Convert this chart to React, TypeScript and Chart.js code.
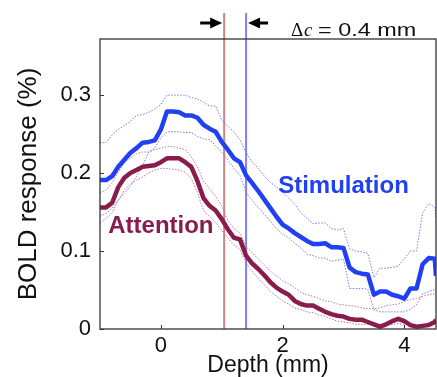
import React, { useEffect, useRef } from "react";
import { Chart, registerables } from "chart.js";

Chart.register(...registerables);

// ---- data ----
const depthMm = [
  -1.0, -0.9, -0.8, -0.7, -0.6, -0.5, -0.4, -0.3, -0.2, -0.1,
  0.0, 0.1, 0.2, 0.3, 0.4, 0.5, 0.6, 0.7, 0.8, 0.9,
  1.0, 1.1, 1.2, 1.3, 1.4, 1.5, 1.6, 1.7, 1.8, 1.9,
  2.0, 2.1, 2.2, 2.3, 2.4, 2.5, 2.6, 2.7, 2.8, 2.9,
  3.0, 3.1, 3.2, 3.3, 3.4, 3.5, 3.6, 3.7, 3.8, 3.9,
  4.0, 4.1, 4.2, 4.3, 4.4, 4.5, 4.52,
];

const stimulationMean = [
  0.191, 0.191, 0.196, 0.208, 0.217, 0.226, 0.232, 0.239, 0.240, 0.242,
  0.256, 0.279, 0.279, 0.278, 0.274, 0.274, 0.271, 0.262, 0.257, 0.253,
  0.240, 0.230, 0.219, 0.214, 0.197, 0.187, 0.177, 0.166, 0.155, 0.144,
  0.134, 0.129, 0.123, 0.118, 0.113, 0.109, 0.109, 0.110, 0.105, 0.105,
  0.104, 0.079, 0.073, 0.071, 0.070, 0.044, 0.048, 0.048, 0.044, 0.042,
  0.039, 0.052, 0.052, 0.083, 0.091, 0.090, 0.068,
];

const stimulationUpper = [
  0.239, 0.239, 0.249, 0.256, 0.261, 0.266, 0.274, 0.275, 0.278, 0.282,
  0.288, 0.300, 0.300, 0.300, 0.300, 0.297, 0.295, 0.291, 0.286, 0.286,
  0.268, 0.260, 0.253, 0.243, 0.226, 0.214, 0.206, 0.196, 0.188, 0.182,
  0.175, 0.168, 0.160, 0.149, 0.142, 0.135, 0.136, 0.136, 0.129, 0.127,
  0.129, 0.103, 0.100, 0.099, 0.097, 0.066, 0.078, 0.078, 0.079, 0.081,
  0.090, 0.100, 0.100, 0.149, 0.161, 0.156, 0.143,
];

const stimulationLower = [
  0.145, 0.148, 0.155, 0.165, 0.174, 0.183, 0.196, 0.209, 0.227, 0.232,
  0.245, 0.253, 0.253, 0.253, 0.252, 0.252, 0.247, 0.244, 0.243, 0.235,
  0.227, 0.217, 0.206, 0.197, 0.175, 0.165, 0.156, 0.147, 0.138, 0.129,
  0.122, 0.117, 0.110, 0.104, 0.096, 0.094, 0.091, 0.091, 0.087, 0.088,
  0.090, 0.052, 0.052, 0.052, 0.051, 0.025, 0.022, 0.022, 0.022, 0.022,
  0.022, 0.025, 0.031, 0.045, 0.048, 0.051, 0.050,
];

const attentionMean = [
  0.156, 0.156, 0.162, 0.182, 0.194, 0.200, 0.204, 0.208, 0.209, 0.210,
  0.214, 0.219, 0.219, 0.219, 0.214, 0.208, 0.190, 0.168, 0.158, 0.152,
  0.141, 0.128, 0.117, 0.115, 0.094, 0.084, 0.077, 0.069, 0.060, 0.053,
  0.048, 0.044, 0.036, 0.032, 0.030, 0.030, 0.026, 0.022, 0.019, 0.017,
  0.016, 0.013, 0.012, 0.012, 0.009, 0.006, 0.003, 0.006, 0.010, 0.013,
  0.010, 0.005, 0.003, 0.004, 0.005, 0.009, 0.012,
];

const attentionUpper = [
  0.175, 0.178, 0.188, 0.201, 0.213, 0.219, 0.225, 0.227, 0.227, 0.230,
  0.232, 0.234, 0.234, 0.232, 0.230, 0.221, 0.208, 0.190, 0.180, 0.170,
  0.158, 0.139, 0.129, 0.123, 0.106, 0.097, 0.090, 0.082, 0.074, 0.068,
  0.062, 0.058, 0.053, 0.047, 0.044, 0.042, 0.039, 0.036, 0.035, 0.032,
  0.031, 0.030, 0.029, 0.027, 0.026, 0.026, 0.027, 0.030, 0.031, 0.032,
  0.035, 0.038, 0.039, 0.042, 0.044, 0.045, 0.045,
];

const attentionLower = [
  0.136, 0.142, 0.149, 0.165, 0.178, 0.186, 0.191, 0.195, 0.200, 0.204,
  0.206, 0.206, 0.205, 0.204, 0.201, 0.193, 0.175, 0.152, 0.144, 0.137,
  0.126, 0.117, 0.108, 0.102, 0.084, 0.074, 0.065, 0.057, 0.048, 0.042,
  0.036, 0.032, 0.027, 0.025, 0.022, 0.021, 0.018, 0.016, 0.013, 0.010,
  0.009, 0.008, 0.006, 0.006, 0.006, 0.005, 0.004, 0.005, 0.006, 0.007,
  0.006, 0.005, 0.004, 0.004, 0.005, 0.006, 0.007,
];

const xTickValues = [0, 2, 4];
const xTickLabels = ["0", "2", "4"];
const yTickValues = [0, 0.1, 0.2, 0.3];
const yTickLabels = ["0", "0.1", "0.2", "0.3"];

// peak depths: attention (red), stimulation (blue)
const peakDepths = [1.04, 1.4];
const peakColors = ["#c98484", "#8080f2"];

const seriesLabels = ["Stimulation", "Attention"];
const labelAnchors = [
  { x: 3.0, y: 0.174 },
  { x: 0.0, y: 0.123 },
];

const BLUE = "#2040f2";
const MAROON = "#8a1c4c";
const BLUE_THIN = "#7a7af0";
const RED_THIN = "#c07a8c";

const toPoints = (ys: number[]) => depthMm.map((x, i) => ({ x, y: ys[i] }));

const overlayPlugin = {
  id: "overlay",
  beforeDatasetsDraw(chart: any) {
    const { ctx, chartArea: a, scales } = chart;
    const xs = scales.x;
    ctx.save();
    peakDepths.forEach((d, i) => {
      const px = xs.getPixelForValue(d);
      ctx.strokeStyle = peakColors[i];
      ctx.lineWidth = 2;
      ctx.beginPath();
      ctx.moveTo(px, a.top - 26);
      ctx.lineTo(px, a.bottom);
      ctx.stroke();
    });
    ctx.restore();
  },
  afterDatasetsDraw(chart: any) {
    const { ctx, chartArea: a, scales } = chart;
    const xs = scales.x;
    const ys = scales.y;
    ctx.save();
    // box
    ctx.strokeStyle = "#333";
    ctx.lineWidth = 1.3;
    ctx.strokeRect(a.left, a.top, a.right - a.left, a.bottom - a.top);
    // inward ticks
    ctx.lineWidth = 1;
    ctx.strokeStyle = "#333";
    xTickValues.forEach((v) => {
      const px = Math.round(xs.getPixelForValue(v)) + 0.5;
      ctx.beginPath();
      ctx.moveTo(px, a.bottom);
      ctx.lineTo(px, a.bottom - 4);
      ctx.stroke();
    });
    yTickValues.forEach((v) => {
      const py = Math.round(ys.getPixelForValue(v)) + 0.5;
      ctx.beginPath();
      ctx.moveTo(a.left, py);
      ctx.lineTo(a.left + 4, py);
      ctx.stroke();
    });

    // series labels
    ctx.font = "bold 24px 'Liberation Sans', Arial, sans-serif";
    ctx.textAlign = "center";
    ctx.textBaseline = "alphabetic";
    [BLUE, MAROON].forEach((c, i) => {
      ctx.fillStyle = c;
      ctx.fillText(
        seriesLabels[i],
        xs.getPixelForValue(labelAnchors[i].x),
        ys.getPixelForValue(labelAnchors[i].y)
      );
    });

    // arrows
    const redPx = xs.getPixelForValue(peakDepths[0]);
    const bluePx = xs.getPixelForValue(peakDepths[1]);
    const ay = a.top - 16;
    ctx.fillStyle = "#000";
    // left arrow pointing right
    let tip = redPx - 2;
    ctx.beginPath();
    ctx.moveTo(tip, ay);
    ctx.lineTo(tip - 12, ay - 5.5);
    ctx.lineTo(tip - 12, ay + 5.5);
    ctx.closePath();
    ctx.fill();
    ctx.fillRect(tip - 22, ay - 1.5, 11, 3);
    // right arrow pointing left
    tip = bluePx + 2;
    ctx.beginPath();
    ctx.moveTo(tip, ay);
    ctx.lineTo(tip + 12, ay - 5.5);
    ctx.lineTo(tip + 12, ay + 5.5);
    ctx.closePath();
    ctx.fill();
    ctx.fillRect(tip + 11, ay - 1.5, 9, 3);

    // Δc = 0.4 mm
    const ty = a.top - 3;
    ctx.textAlign = "left";
    ctx.fillStyle = "#111";
    ctx.font = "19px 'Liberation Serif', serif";
    ctx.fillText("Δ", bluePx + 45, ty);
    ctx.font = "italic 19px 'Liberation Serif', serif";
    ctx.fillText("c", bluePx + 58, ty);
    ctx.save();
    ctx.translate(bluePx + 72, ty);
    ctx.scale(1.3, 1);
    ctx.font = "18px 'Liberation Sans', Arial, sans-serif";
    ctx.fillText("= 0.4 mm", 0, 0);
    ctx.restore();
    ctx.restore();
  },
};

export default function App() {
  const ref = useRef<HTMLCanvasElement>(null);

  useEffect(() => {
    document.body.style.margin = "0";
    const canvas = ref.current;
    if (!canvas) return;
    const thin = (data: number[], color: string, order: number) => ({
      data: toPoints(data),
      borderColor: color,
      borderWidth: 1,
      borderDash: [1.5, 1.5],
      pointRadius: 0,
      order,
    });
    const chart = new Chart(canvas, {
      type: "line",
      data: {
        datasets: [
          {
            label: "Stimulation",
            data: toPoints(stimulationMean),
            borderColor: BLUE,
            borderWidth: 4.5,
            pointRadius: 0,
            borderJoinStyle: "round",
            order: 1,
          },
          {
            label: "Attention",
            data: toPoints(attentionMean),
            borderColor: MAROON,
            borderWidth: 4.5,
            pointRadius: 0,
            borderJoinStyle: "round",
            order: 2,
          },
          { label: "Stim upper", ...thin(stimulationUpper, BLUE_THIN, 5) },
          { label: "Stim lower", ...thin(stimulationLower, BLUE_THIN, 5) },
          { label: "Att upper", ...thin(attentionUpper, RED_THIN, 6) },
          { label: "Att lower", ...thin(attentionLower, RED_THIN, 6) },
        ] as any,
      },
      options: {
        responsive: false,
        animation: false,
        devicePixelRatio: 1,
        layout: { padding: { top: 39, right: 1, left: 0, bottom: 0 } },
        plugins: {
          legend: { display: false },
          tooltip: { enabled: false },
        },
        scales: {
          x: {
            type: "linear",
            min: -1,
            max: 4.52,
            grid: { display: false, drawTicks: false },
            border: { display: false },
            afterBuildTicks: (s: any) => {
              s.ticks = xTickValues.map((value) => ({ value }));
            },
            afterFit: (s: any) => {
              s.height = 48;
            },
            ticks: {
              padding: 4,
              color: "#111",
              font: { size: 22, family: "'Liberation Sans', Arial, sans-serif" },
              maxRotation: 0,
              callback: (_v: any, i: number) => xTickLabels[i],
            },
            title: {
              display: true,
              text: "Depth (mm)",
              color: "#111",
              font: {
                size: 23,
                lineHeight: 0.95,
                family: "'Liberation Sans', Arial, sans-serif",
              },
              padding: { top: 0, bottom: 0 },
            },
          },
          y: {
            type: "linear",
            min: 0,
            max: 0.372,
            grid: { display: false, drawTicks: false },
            border: { display: false },
            afterBuildTicks: (s: any) => {
              s.ticks = yTickValues.map((value) => ({ value }));
            },
            afterFit: (s: any) => {
              s.width = 100;
            },
            ticks: {
              padding: 9,
              color: "#111",
              font: { size: 22, family: "'Liberation Sans', Arial, sans-serif" },
              callback: (_v: any, i: number) => yTickLabels[i],
            },
            title: {
              display: true,
              text: "BOLD response (%)",
              color: "#111",
              font: { size: 26, family: "'Liberation Sans', Arial, sans-serif" },
              padding: { top: 13, bottom: 0 },
            },
          },
        },
      } as any,
      plugins: [overlayPlugin],
    });
    return () => chart.destroy();
  }, []);

  return (
    <div style={{ width: 437, height: 377 }}>
      <canvas ref={ref} width={437} height={377} style={{ display: "block" }} />
    </div>
  );
}
